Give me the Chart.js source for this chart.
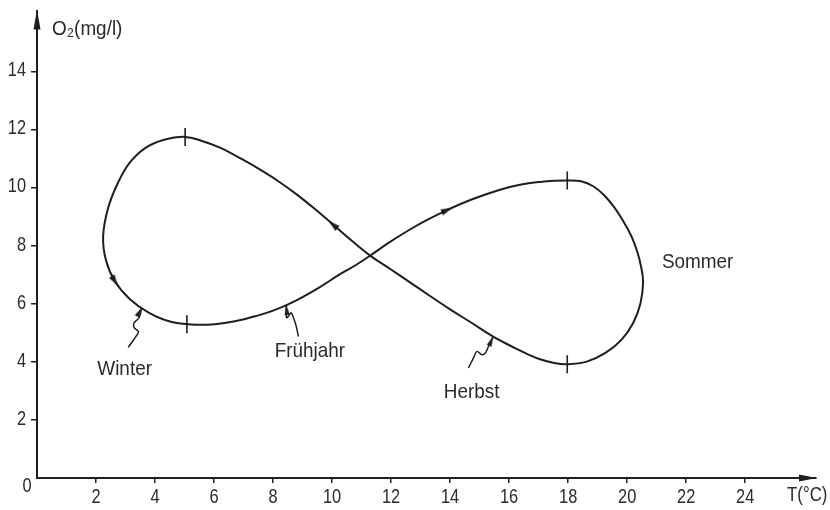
<!DOCTYPE html>
<html>
<head>
<meta charset="utf-8">
<script src="https://cdn.jsdelivr.net/npm/chart.js@4/dist/chart.umd.min.js"></script>
<style>
  html, body { margin: 0; padding: 0; background: #fff; }
  canvas { display: block; }
</style>
</head>
<body>
<canvas id="c" width="830" height="510"></canvas>
<script>
// Annual loop of dissolved oxygen against water temperature
// (Winter -> Frühjahr -> Sommer -> Herbst -> Winter)
const loopT = [
  5.36, 6.03, 6.71, 7.39, 8.07, 8.81, 9.53, 10.27, 10.78, 11.29,
  11.90, 12.54, 13.22, 13.90, 14.75, 15.69, 16.37, 17.05, 17.56, 17.97,
  18.44, 18.85, 19.22, 19.56, 19.86, 20.14, 20.34, 20.47, 20.54, 20.45,
  20.20, 19.79, 19.25, 18.63, 17.97, 17.49, 17.05, 16.64, 16.27, 15.86,
  15.46, 14.75, 14.00, 13.32, 12.64, 11.97, 11.29, 10.68, 10.10, 9.46,
  8.81, 8.24, 7.66, 6.95, 6.20, 5.59, 5.02, 4.31, 3.69, 3.15,
  2.75, 2.41, 2.24, 2.34, 2.64, 3.15, 3.80, 4.54
];
const loopO2 = [
  5.28, 5.30, 5.40, 5.57, 5.79, 6.13, 6.54, 7.02, 7.32, 7.66,
  8.09, 8.50, 8.89, 9.23, 9.60, 9.93, 10.10, 10.20, 10.24, 10.25,
  10.22, 10.05, 9.74, 9.33, 8.86, 8.34, 7.80, 7.29, 6.74, 6.01,
  5.33, 4.74, 4.30, 4.01, 3.92, 3.97, 4.09, 4.26, 4.44, 4.65,
  4.87, 5.33, 5.81, 6.27, 6.74, 7.20, 7.66, 8.16, 8.67, 9.23,
  9.76, 10.18, 10.56, 10.98, 11.38, 11.61, 11.75, 11.65, 11.38, 10.87,
  10.18, 9.30, 8.31, 7.49, 6.78, 6.16, 5.69, 5.38
];

// Cross marks on the loop
const markT  = [5.02, 5.08, 17.97, 17.97];
const markO2 = [11.75, 5.30, 10.25, 3.92];

// Direction arrows on the loop (angle in degrees, 0 = pointing up)
const arrowT     = [2.64, 10.03, 13.90];
const arrowO2    = [6.78, 8.73, 9.23];
const arrowAngle = [148, 311, 66];

// Axis ticks
const xTicks = [2, 4, 6, 8, 10, 12, 14, 16, 18, 20, 22, 24];
const xTickLabels = ['2', '4', '6', '8', '10', '12', '14', '16', '18', '20', '22', '24'];
const yTicks = [2, 4, 6, 8, 10, 12, 14];
const yTickLabels = ['2', '4', '6', '8', '10', '12', '14'];

// Season names and their positions
const seasonNames = ['Winter', 'Frühjahr', 'Herbst', 'Sommer'];
const seasonT  = [2.97, 9.25, 14.73, 22.39];
const seasonO2 = [3.75, 4.36, 2.96, 7.42];

// Wavy leader lines from the season names to the loop (last point = arrow tip)
const winterLeaderT  = [3.09, 3.35, 3.44, 3.29, 3.29, 3.46, 3.55];
const winterLeaderO2 = [4.50, 4.87, 5.04, 5.18, 5.35, 5.52, 5.87];
const springLeaderT  = [8.86, 8.78, 8.69, 8.61, 8.53, 8.46, 8.44, 8.45];
const springLeaderO2 = [4.87, 5.25, 5.52, 5.69, 5.59, 5.52, 5.76, 5.96];
const autumnLeaderT  = [14.62, 14.79, 14.91, 15.07, 15.19, 15.30, 15.46];
const autumnLeaderO2 = [3.79, 4.13, 4.36, 4.25, 4.30, 4.53, 4.87];
const leaderAngle = [28, 355, 24];

const INK = '#1e1e1e';
const TEXT = '#2a2a2a';
const FONT = '"Liberation Sans", Arimo, Arial, sans-serif';

const pts = (xs, ys) => xs.map((v, i) => ({ x: v, y: ys[i] }));

// Closed loop: wrap one point on each side so the spline is smooth at the join
const n = loopT.length;
const loopPts = pts(loopT, loopO2);
const closedLoop = [loopPts[n - 1], ...loopPts, loopPts[0], loopPts[1]];
const lastSeg = closedLoop.length - 2;

// Arrowhead sprites
function arrowSprite(len, half, tipAtCentre) {
  const c = document.createElement('canvas');
  c.width = Math.ceil(half * 2) + 2;
  c.height = tipAtCentre ? len * 2 : len;
  const g = c.getContext('2d');
  const top = tipAtCentre ? len : 0;
  g.fillStyle = INK;
  g.beginPath();
  g.moveTo(c.width / 2, top);
  g.lineTo(c.width / 2 + half, top + len);
  g.lineTo(c.width / 2 - half, top + len);
  g.closePath();
  g.fill();
  return c;
}
const loopArrow = arrowSprite(12, 3.2, false);
const leaderArrow = arrowSprite(10, 2.6, true);

function leader(xs, ys, angle) {
  const last = xs.length - 1;
  return {
    data: pts(xs, ys),
    showLine: true,
    borderColor: INK,
    borderWidth: 1.5,
    tension: 0.35,
    pointRadius: xs.map((_, i) => (i === last ? 3 : 0)),
    pointStyle: leaderArrow,
    pointRotation: angle,
    order: 2
  };
}

// narrow drafting-style lettering: squeeze the glyphs horizontally
function letter(ctx, text, x, y, size, squeeze, align) {
  ctx.save();
  ctx.font = size + 'px ' + FONT;
  ctx.translate(x, y);
  ctx.scale(squeeze, 1);
  ctx.textAlign = align;
  ctx.textBaseline = 'middle';
  ctx.fillStyle = TEXT;
  ctx.fillText(text, 0, 0);
  ctx.restore();
}

const decor = {
  id: 'decor',
  afterDraw(chart) {
    const { ctx, chartArea: a, scales: { x, y } } = chart;
    ctx.save();
    ctx.fillStyle = INK;
    // axis arrowheads
    ctx.beginPath();
    ctx.moveTo(a.left, a.top - 1);
    ctx.lineTo(a.left - 3.5, a.top + 19);
    ctx.lineTo(a.left + 3.5, a.top + 19);
    ctx.closePath();
    ctx.fill();
    ctx.beginPath();
    ctx.moveTo(a.right + 1, a.bottom);
    ctx.lineTo(a.right - 17, a.bottom - 3.5);
    ctx.lineTo(a.right - 17, a.bottom + 3.5);
    ctx.closePath();
    ctx.fill();
    ctx.restore();

    // tick labels
    x.ticks.forEach((t, i) => {
      letter(ctx, xTickLabels[i], x.getPixelForValue(t.value), a.bottom + 19, 21, 0.78, 'center');
    });
    y.ticks.forEach((t, i) => {
      letter(ctx, yTickLabels[i], a.left - 11, y.getPixelForValue(t.value) - 1, 21, 0.78, 'right');
    });
    letter(ctx, '0', x.getPixelForValue(-0.34), y.getPixelForValue(-0.27), 21, 0.78, 'center');

    // season names
    seasonNames.forEach((s, i) => {
      letter(ctx, s, x.getPixelForValue(seasonT[i]), y.getPixelForValue(seasonO2[i]), 21, 0.9, 'center');
    });
    // axis titles
    letter(ctx, 'O₂(mg/l)', x.getPixelForValue(0.51), y.getPixelForValue(15.46), 21, 0.9, 'left');
    letter(ctx, 'T(°C)', x.getPixelForValue(25.42), y.getPixelForValue(-0.58), 21, 0.8, 'left');
  }
};

new Chart(document.getElementById('c'), {
  type: 'scatter',
  data: {
    datasets: [
      {
        data: closedLoop,
        showLine: true,
        borderColor: INK,
        borderWidth: 2,
        tension: 0.4,
        pointRadius: 0,
        segment: {
          borderColor: ctx => (ctx.p0DataIndex === 0 || ctx.p0DataIndex === lastSeg) ? 'rgba(0,0,0,0)' : INK
        },
        order: 3
      },
      {
        data: pts(markT, markO2),
        pointStyle: 'line',
        pointRotation: 90,
        pointRadius: 9,
        pointBorderColor: INK,
        pointBorderWidth: 1.6,
        order: 1
      },
      {
        data: pts(arrowT, arrowO2),
        pointStyle: loopArrow,
        pointRotation: arrowAngle,
        pointRadius: 3,
        order: 1
      },
      leader(winterLeaderT, winterLeaderO2, leaderAngle[0]),
      leader(springLeaderT, springLeaderO2, leaderAngle[1]),
      leader(autumnLeaderT, autumnLeaderO2, leaderAngle[2])
    ]
  },
  options: {
    responsive: false,
    animation: false,
    devicePixelRatio: 1,
    layout: { padding: { top: 5, right: 14, left: 0, bottom: 0 } },
    plugins: { legend: { display: false }, tooltip: { enabled: false } },
    scales: {
      x: {
        type: 'linear',
        min: 0,
        max: 26.4,
        afterBuildTicks: s => { s.ticks = xTicks.map(v => ({ value: v })); },
        afterFit: s => { s.height = 32; },
        grid: { drawOnChartArea: false, drawTicks: true, tickLength: 5, color: INK, lineWidth: 1.5 },
        border: { display: true, color: INK, width: 2 },
        ticks: { display: false }
      },
      y: {
        type: 'linear',
        min: 0,
        max: 16.1,
        afterBuildTicks: s => { s.ticks = yTicks.map(v => ({ value: v })); },
        afterFit: s => { s.width = 37; },
        grid: { drawOnChartArea: false, drawTicks: true, tickLength: 6, color: INK, lineWidth: 1.5 },
        border: { display: true, color: INK, width: 2 },
        ticks: { display: false }
      }
    }
  },
  plugins: [decor]
});
</script>
</body>
</html>
